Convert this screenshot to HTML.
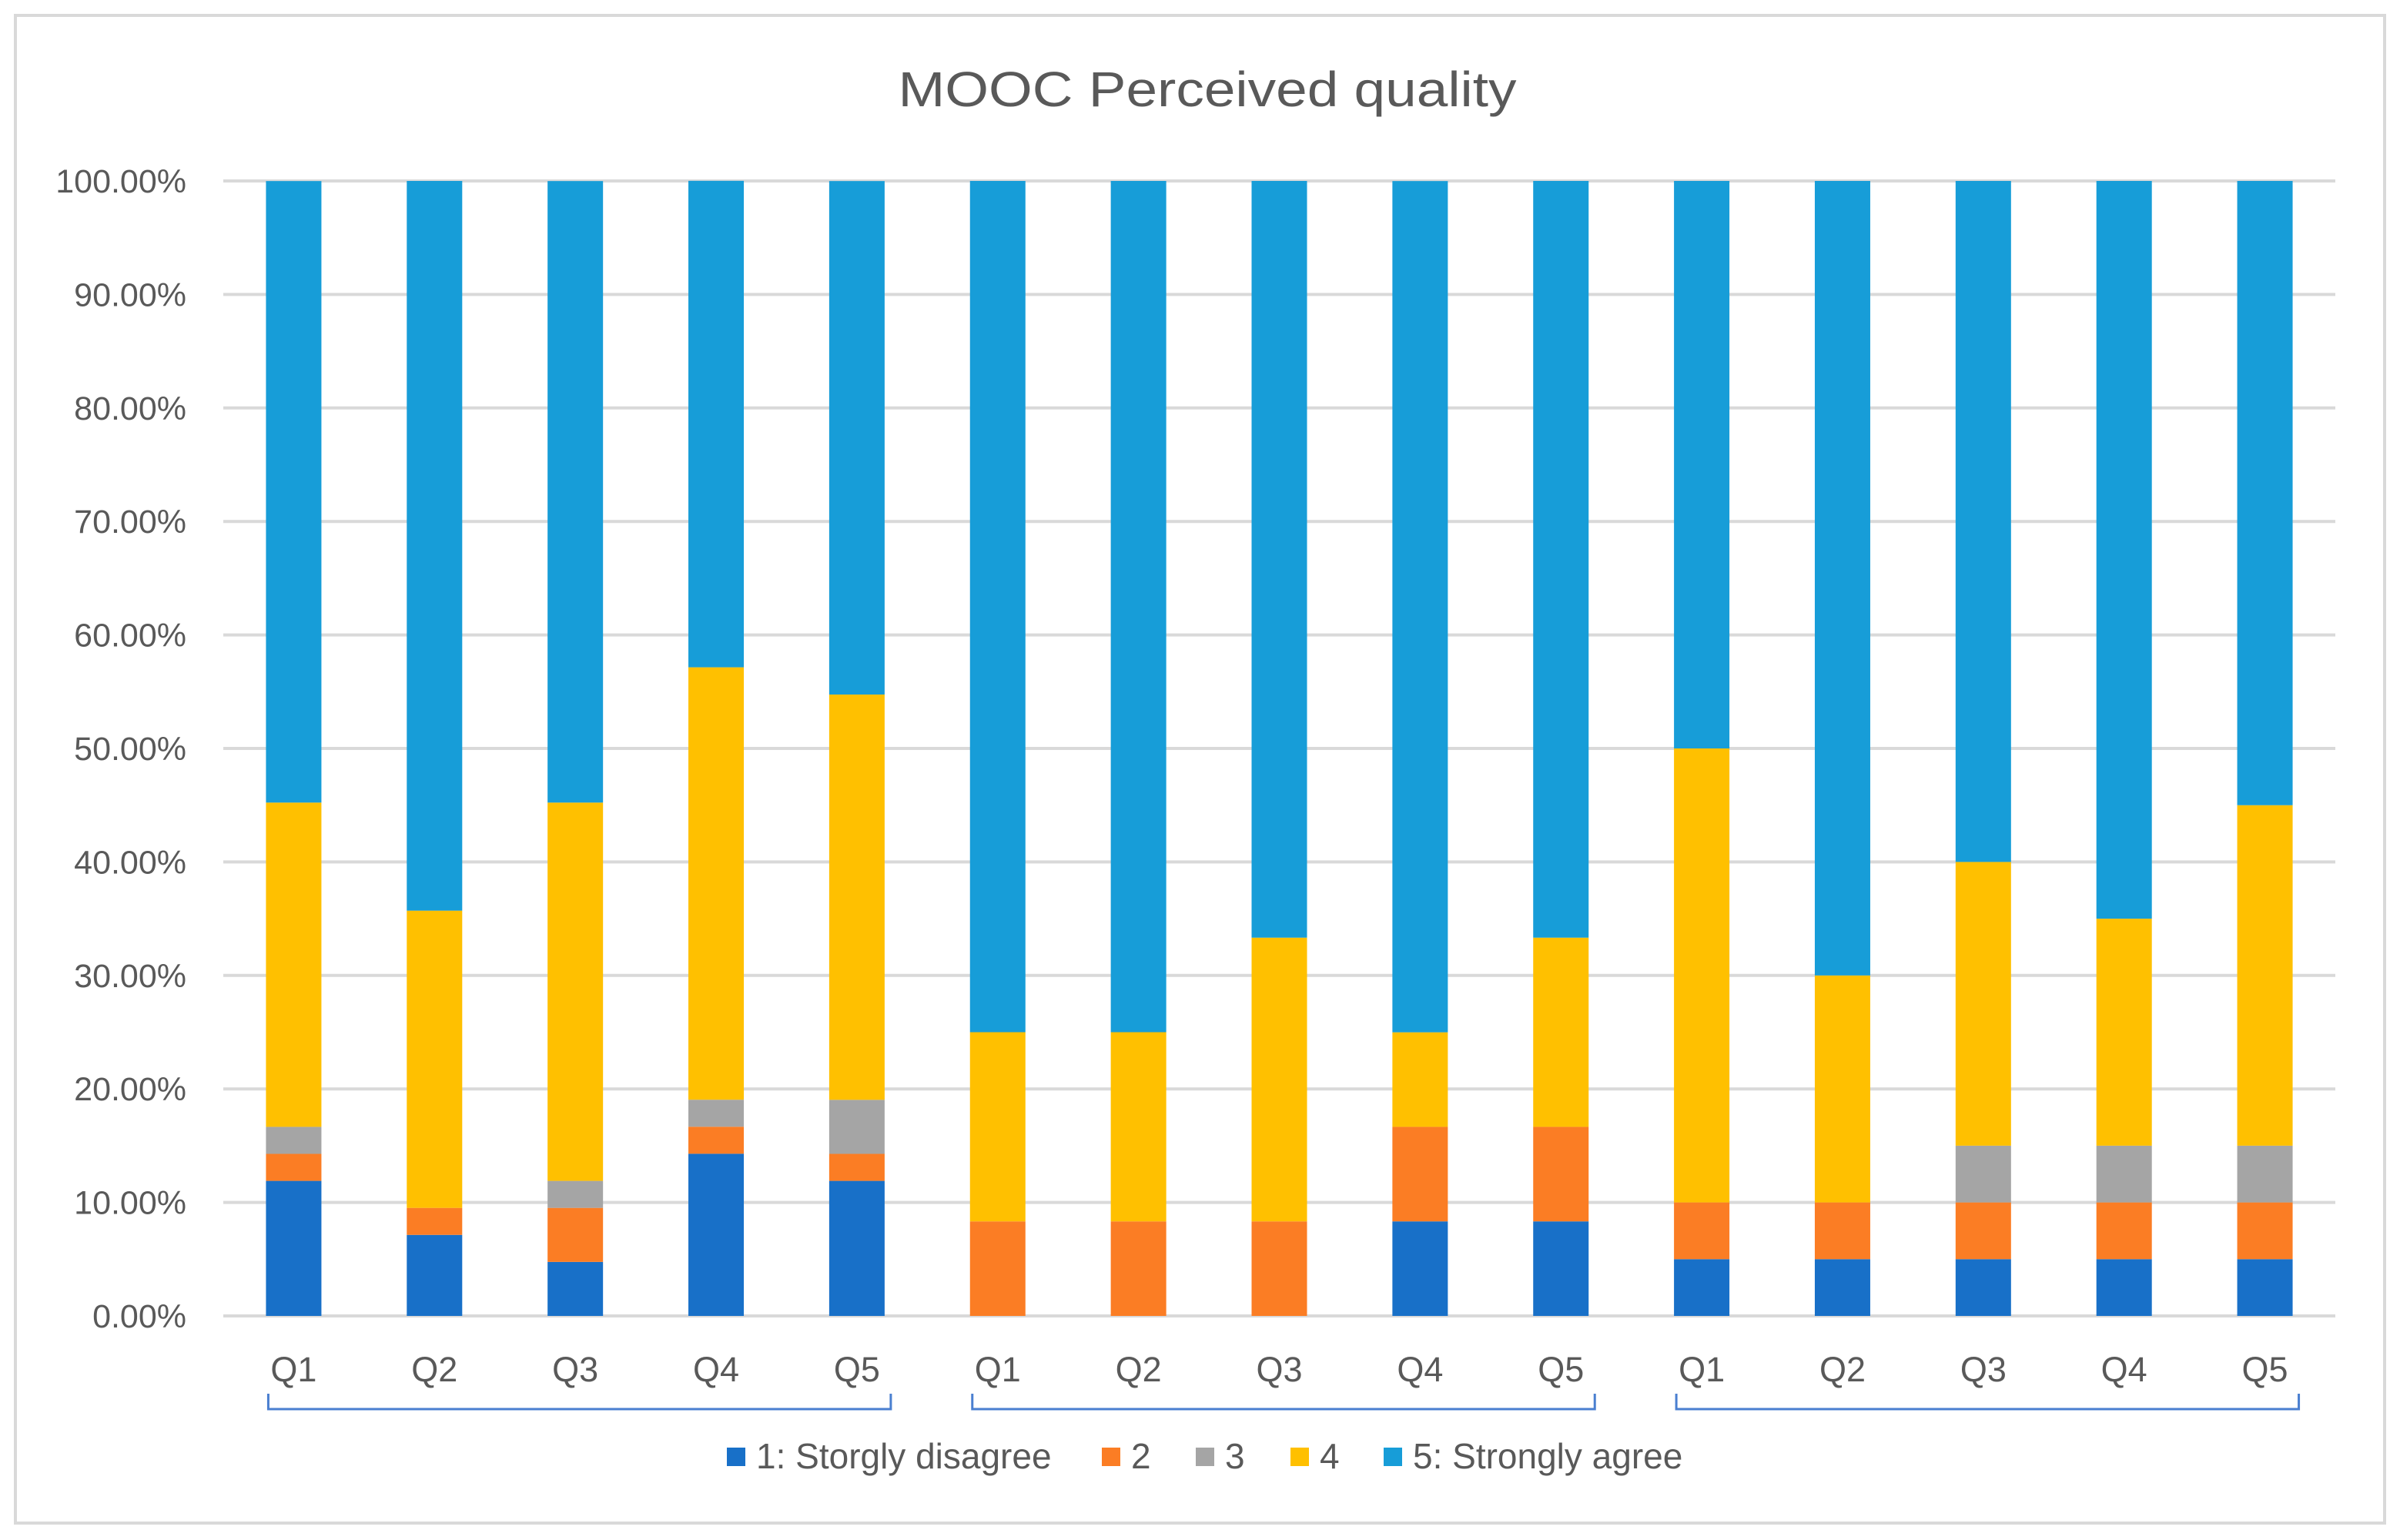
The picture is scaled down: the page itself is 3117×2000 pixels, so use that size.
<!DOCTYPE html>
<html><head><meta charset="utf-8">
<style>
html,body{margin:0;padding:0;background:#fff;}
svg{display:block;font-family:"Liberation Sans",sans-serif;}
</style></head>
<body>
<svg id="chart" width="3117" height="2000" viewBox="0 0 3117 2000" xmlns="http://www.w3.org/2000/svg">
<rect x="20" y="20" width="3077" height="1958" fill="#fff" stroke="#d9d9d9" stroke-width="4"/>
<text x="1568" y="138" text-anchor="middle" font-size="64" fill="#595959" textLength="803" lengthAdjust="spacingAndGlyphs">MOOC Perceived quality</text>
<g id="grid"></g>
<g id="bars"></g>
<g id="xlabels"></g>
<g id="brackets"></g>
<g id="legend"></g>
</svg>
<script>
const categories = ["Q1","Q2","Q3","Q4","Q5","Q1","Q2","Q3","Q4","Q5","Q1","Q2","Q3","Q4","Q5"];
const s1 = [11.90,7.14,4.76,14.29,11.90, 0,0,0,8.33,8.33, 5,5,5,5,5];
const s2 = [2.38,2.38,4.76,2.38,2.38, 8.33,8.33,8.33,8.33,8.33, 5,5,5,5,5];
const s3 = [2.38,0,2.38,2.38,4.76, 0,0,0,0,0, 0,0,5,5,5];
const s4 = [28.57,26.19,33.33,38.10,35.71, 16.67,16.67,25,8.33,16.67, 40,20,25,20,30];
const s5 = [54.76,64.29,54.76,42.86,45.24, 75,75,66.67,75,66.67, 50,70,60,65,55];
const seriesNames = ["1: Storgly disagree","2","3","4","5: Strongly agree"];
const seriesColors = ["#1870C8","#FB7D24","#A5A5A5","#FFC000","#179DD8"];
const yTicks = [0,10,20,30,40,50,60,70,80,90,100];
const groups = [[0,4],[5,9],[10,14]];

const NS="http://www.w3.org/2000/svg";
const X0=290, X1=3033, Y0=1709, Y100=235;
const band=(X1-X0)/categories.length;
const xC=i=>X0+band*(i+0.5);
const yS=v=>Y0-(Y0-Y100)*v/100;
const barW=72;
function mk(tag,attrs,parent){const e=document.createElementNS(NS,tag);for(const k in attrs)e.setAttribute(k,attrs[k]);parent.appendChild(e);return e;}

const grid=document.getElementById('grid');
yTicks.forEach(t=>{
  const l=mk('line',{x1:X0,x2:X1,y1:yS(t),y2:yS(t),stroke:'#d9d9d9','stroke-width':4},grid);
  
  
  const tx=mk('text',{x:242,y:yS(t)+15,'text-anchor':'end','font-size':43,fill:'#595959'},grid);
  tx.textContent=t.toFixed(2)+'%';
  
  
});

const series=[s1,s2,s3,s4,s5];
const bars=document.getElementById('bars');
categories.forEach((c,i)=>{
  let cum=0;
  series.forEach((s,k)=>{
    const v=s[i];
    if(v>0){
      const r=mk('rect',{x:xC(i)-barW/2,y:yS(cum+v),width:barW,height:yS(cum)-yS(cum+v),fill:seriesColors[k]},bars);
      
      
    }
    cum+=v;
  });
});

const xl=document.getElementById('xlabels');
categories.forEach((c,i)=>{
  const t=mk('text',{x:xC(i),y:1794,'text-anchor':'middle','font-size':45,fill:'#595959'},xl);
  t.textContent=c;
  
  
});

const br=document.getElementById('brackets');
groups.forEach(g=>{
  const a=xC(g[0])-33, b=xC(g[1])+44;
  const p=mk('path',{d:`M${a},1810 V1830 H${b} V1810`,fill:'none',stroke:'#4a7fd0','stroke-width':3},br);
  
  
});

const lg=document.getElementById('legend');
const lx=[944,1431,1553,1676,1797];
seriesNames.forEach((n,k)=>{
  const r=mk('rect',{x:lx[k],y:1880,width:24,height:24,fill:seriesColors[k]},lg);
  
  
  const t=mk('text',{x:lx[k]+38,y:1907,'font-size':46,fill:'#595959'},lg);
  t.textContent=n;
  
  
});
</script>
</body></html>
